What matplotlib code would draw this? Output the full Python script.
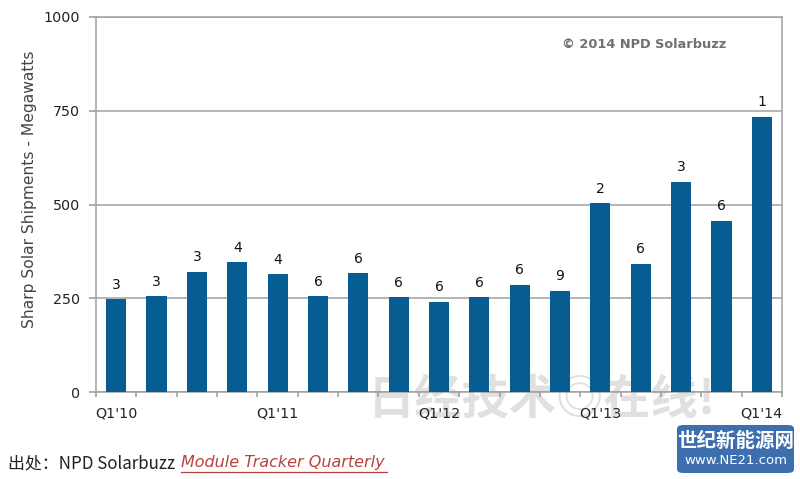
import matplotlib
matplotlib.use("Agg")
import matplotlib.pyplot as plt
from matplotlib.patches import FancyBboxPatch
import numpy as np

plt.rcParams['font.family'] = ['DejaVu Sans']
CJK = ['Noto Sans CJK SC', 'DejaVu Sans']

quarters = ["Q1'10", "Q2'10", "Q3'10", "Q4'10", "Q1'11", "Q2'11", "Q3'11", "Q4'11",
            "Q1'12", "Q2'12", "Q3'12", "Q4'12", "Q1'13", "Q2'13", "Q3'13", "Q4'13", "Q1'14"]
shipments = [248, 256, 321, 346, 314, 256, 317, 253, 241, 253, 287, 271, 503, 342, 560, 456, 733]
ranks = ["3", "3", "3", "4", "4", "6", "6", "6", "6", "6", "6", "9", "2", "6", "3", "6", "1"]
shown_labels = {"Q1'10", "Q1'11", "Q1'12", "Q1'13", "Q1'14"}
yticks = [0, 250, 500, 750, 1000]

fig = plt.figure(figsize=(8, 4.79), dpi=100, facecolor='white')
ax = fig.add_axes([96/800, 1 - 392.3/479, (782-96)/800, (392.3-16.7)/479])
ax.patch.set_alpha(0)

x = np.arange(len(quarters))
bar_color = '#055d92'
ax.bar(x, shipments, width=0.5, color=bar_color, zorder=3)
for xi, v, r in zip(x, shipments, ranks):
    ax.annotate(r, (xi, v), xytext=(0, 5.5), textcoords='offset points',
                ha='center', va='bottom', fontsize=10, color='#111111', zorder=4,
                family='DejaVu Sans')

ax.set_xlim(-0.5, len(quarters) - 0.5)
ax.set_ylim(0, 1000)
ax.set_yticks(yticks)
ax.set_yticklabels([str(t) for t in yticks], fontsize=10.3, color='#222222', family='DejaVu Sans')
ax.tick_params(axis='y', length=5, color='#999999', width=1.1, pad=6.5)
ax.yaxis.grid(True, color='#a0a0a0', linewidth=1.1, zorder=0)
ax.set_axisbelow(True)

ax.set_xticks(np.arange(-0.5, len(quarters), 1), minor=True)
ax.set_xticks(x)
ax.set_xticklabels([q if q in shown_labels else '' for q in quarters], fontsize=10.3,
                   color='#222222', family='DejaVu Sans')
ax.tick_params(axis='x', which='major', length=0, pad=10)
ax.tick_params(axis='x', which='minor', length=3.6, color='#999999', width=1.1)

for s in ax.spines.values():
    s.set_color('#a0a0a0')
    s.set_linewidth(1.1)

fig.text(30/800, 1 - 189/479, 'Sharp Solar Shipments - Megawatts', rotation=90,
         ha='center', va='center', fontsize=11.2, color='#444444', family='DejaVu Sans')

ax.text((726-96)/686, 1 - (44-16.7)/375.6, '\u00a9 2014 NPD Solarbuzz', transform=ax.transAxes,
        ha='right', va='center', fontsize=9.3, fontweight='bold', color='#707070',
        family='DejaVu Sans')

# watermark (behind the chart)
fig.text(542/800, 1 - 400/479, '日经技术◎在线!', ha='center', va='center', fontsize=34,
         fontweight='bold', color='#cccccc', alpha=0.6, zorder=-1, family=CJK)

# source line
fig.text(8/800, 1 - 463/479, '出处：NPD Solarbuzz', ha='left', va='center', fontsize=12.2,
         color='#222222', family=CJK)
fig.text(181/800, 1 - 463/479, 'Module Tracker Quarterly', ha='left', va='center',
         fontsize=11.5, color='#b8413b', style='italic', family='DejaVu Sans')
fig.add_artist(plt.Line2D([181/800, 387/800], [1 - 472/479, 1 - 472/479],
                          color='#b8413b', linewidth=0.9))

# logo box
box = FancyBboxPatch((677/800, 1 - 473/479), (794-677)/800, (473-425)/479,
                     boxstyle='round,pad=0,rounding_size=0.008', transform=fig.transFigure,
                     facecolor='#3d6fae', edgecolor='none')
fig.add_artist(box)
fig.text(736/800, 1 - 441/479, '世纪新能源网', ha='center', va='center', fontsize=14,
         fontweight='bold', color='white', family=CJK)
fig.text(736/800, 1 - 461/479, 'www.NE21.com', ha='center', va='center', fontsize=9.5,
         color='white', family='DejaVu Sans')

fig.savefig('out.png', dpi=100)
